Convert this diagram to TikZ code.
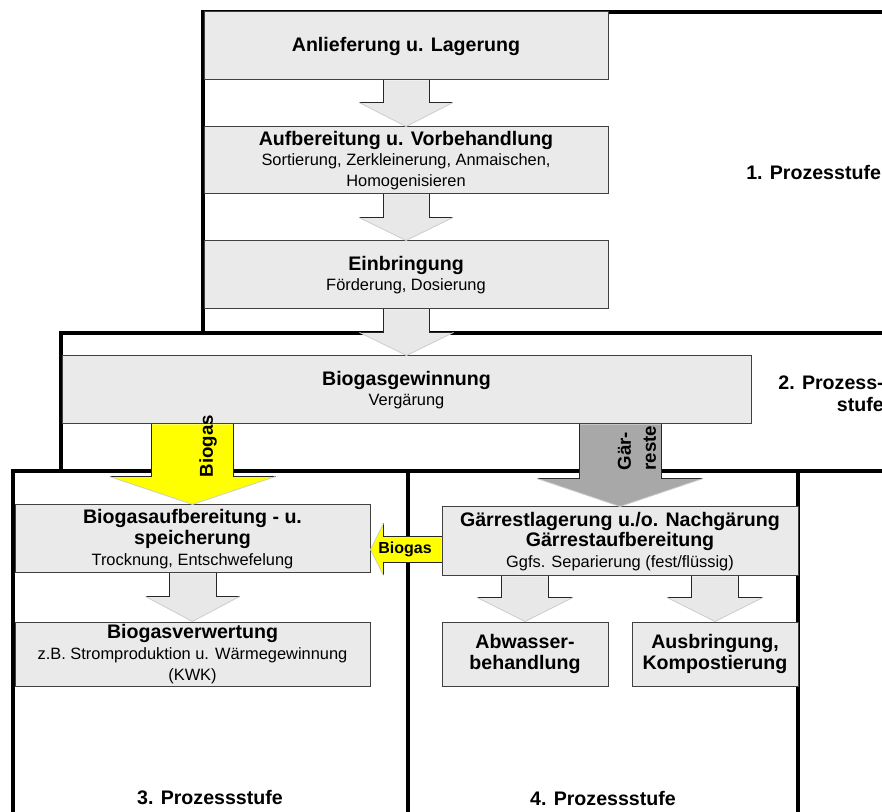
\documentclass[tikz,border=0pt]{standalone}
\usepackage{fontspec}
\setmainfont{Liberation Sans}
\usetikzlibrary{calc}
\definecolor{boxgray}{RGB}{234,234,234}
\definecolor{arrgray}{RGB}{232,232,232}
\definecolor{slantgray}{RGB}{205,205,205}
\definecolor{darkarr}{RGB}{168,168,168}
\definecolor{byellow}{RGB}{255,255,0}
\newcommand\TitleF{\fontsize{14.7pt}{15.5pt}\selectfont\bfseries}
\newcommand\SubF{\fontsize{12.3pt}{15.5pt}\selectfont}
\newcommand\StageF{\fontsize{14.7pt}{16.5pt}\selectfont\bfseries}
% #1 from node, #2 to node, #3 stem half width, #4 head half width, #5 head length, #6 fill
\newcommand\DownArr[6]{%
  \fill[#6] let \p1=(#1.south -| #2.north), \p2=(#2.north) in
    ($(\p1)+(-#3,0)$) -- ($(\p2)+(-#3,-#5)$) -- ($(\p2)+(-#4,-#5)$) -- (\p2)
    -- ($(\p2)+(#4,-#5)$) -- ($(\p2)+(#3,-#5)$) -- ($(\p1)+(#3,0)$) -- cycle;
  \draw[arredge] let \p1=(#1.south -| #2.north), \p2=(#2.north) in
    ($(\p1)+(-#3,0)$) -- ($(\p2)+(-#3,-#5)$) -- ($(\p2)+(-#4,-#5)$)
    ($(\p1)+(#3,0)$) -- ($(\p2)+(#3,-#5)$) -- ($(\p2)+(#4,-#5)$);
  \draw[slantedge] let \p2=(#2.north) in
    ($(\p2)+(-#4,-#5)$) -- (\p2) -- ($(\p2)+(#4,-#5)$);
}
\begin{document}
\begin{tikzpicture}[x=0.75pt,y=-0.75pt,
  box/.style={draw=black!75, line width=0.75pt, fill=boxgray, inner sep=0pt, align=center, font=\SubF},
  frame/.style={line width=2.3pt, draw=black, line join=miter},
  arredge/.style={line width=0.75pt, draw=black!85},
  slantedge/.style={line width=0.6pt, draw=slantgray},
  stagelabel/.style={font=\StageF, inner sep=0pt}
]
\useasboundingbox (0,0) rectangle (882,812);
\clip (0,0) rectangle (882,812);
\fill[white] (0,0) rectangle (882,812);

% stage frames
\draw[frame] (900,12) -- (203,12) -- (203,333);
\draw[frame] (900,333) -- (61,333) -- (61,471);
\draw[frame] (900,471) -- (13,471) -- (13,830);
\draw[frame] (408,471) -- (408,830);
\draw[frame] (798,471) -- (798,830);

% boxes
\node[box, minimum width=303pt, minimum height=51pt] (anl) at (406,46) {{\TitleF Anlieferung u. Lagerung}};
\node[box, minimum width=303pt, minimum height=50.25pt] (aufb) at (406,160.5) {{\TitleF Aufbereitung u. Vorbehandlung}\\Sortierung, Zerkleinerung, Anmaischen,\\Homogenisieren};
\node[box, minimum width=303pt, minimum height=51pt] (einb) at (406,275) {{\TitleF Einbringung}\\F\"orderung, Dosierung};
\node[box, minimum width=516.75pt, minimum height=51pt] (bgw) at (406.5,390) {{\TitleF Biogasgewinnung}\\Verg\"arung};
\node[box, minimum width=266.25pt, minimum height=51pt] (bga) at (192.5,539) {{\TitleF Biogasaufbereitung - u.}\\{\TitleF speicherung}\\Trocknung, Entschwefelung};
\node[box, minimum width=266.25pt, minimum height=48pt] (bgv) at (192.5,654) {{\TitleF Biogasverwertung}\\z.B. Stromproduktion u. W\"armegewinnung\\(KWK)};
\node[box, minimum width=267pt, minimum height=51.75pt] (gr) at (620,541.5) {{\TitleF G\"arrestlagerung u./o. Nachg\"arung}\\{\TitleF G\"arrestaufbereitung}\\Ggfs. Separierung (fest/fl\"ussig)};
\node[box, minimum width=124.5pt, minimum height=48pt] (abw) at (525,654) {{\TitleF Abwasser-}\\{\TitleF behandlung}};
\node[box, minimum width=124.5pt, minimum height=48pt] (aus) at (715,654) {{\TitleF Ausbringung,}\\{\TitleF Kompostierung}};

% block arrows
\DownArr{anl}{aufb}{23}{47}{24}{arrgray}
\DownArr{aufb}{einb}{23}{47}{23}{arrgray}
\DownArr{einb}{bgw}{23}{47}{23}{arrgray}
\DownArr{bgw}{bga}{41}{83}{28}{byellow}
\DownArr{bgw}{gr}{41}{83}{28}{darkarr}
\DownArr{bga}{bgv}{23.5}{47}{25}{arrgray}
\DownArr{gr}{abw}{23.5}{48}{24}{arrgray}
\DownArr{gr}{aus}{23.5}{48}{24}{arrgray}

% horizontal biogas arrow
\fill[byellow] let \p1=($(gr.west)+(0,8)$), \p2=(bga.east) in
  ($(\p1)+(0,-13)$) -- ($(\x2,\y1)+(13,-13)$) -- ($(\x2,\y1)+(13,-26)$) -- (\x2,\y1)
  -- ($(\x2,\y1)+(13,26)$) -- ($(\x2,\y1)+(13,13)$) -- ($(\p1)+(0,13)$) -- cycle;
\draw[arredge] let \p1=($(gr.west)+(0,8)$), \p2=(bga.east) in
  ($(\p1)+(0,-13)$) -- ($(\x2,\y1)+(13,-13)$) -- ($(\x2,\y1)+(13,-26)$)
  ($(\p1)+(0,13)$) -- ($(\x2,\y1)+(13,13)$) -- ($(\x2,\y1)+(13,26)$);
\draw[slantedge] let \p1=($(gr.west)+(0,8)$), \p2=(bga.east) in
  ($(\x2,\y1)+(13,-26)$) -- (\x2,\y1) -- ($(\x2,\y1)+(13,26)$);

% arrow labels
\node[font=\fontsize{14pt}{17pt}\selectfont\bfseries, rotate=90, inner sep=0pt] (biov) at (208,446) {Biogas};
\node[font=\fontsize{14pt}{18.75pt}\selectfont\bfseries, rotate=90, align=left, inner sep=0pt] (gartxt) at (637,448) {G\"ar-\\reste};
\node[font=\fontsize{12pt}{14pt}\selectfont\bfseries, inner sep=0pt] (bioh) at (405,549) {Biogas};

% stage labels
\node[stagelabel, anchor=west] (s1) at (746,172) {1. Prozesstufe};
\node[stagelabel, anchor=east, align=right] (s2) at (884,394) {2. Prozess-\\stufe};
\node[stagelabel] (s3) at (210,798) {3. Prozessstufe};
\node[stagelabel] (s4) at (603,798) {4. Prozessstufe};
\end{tikzpicture}
\end{document}
